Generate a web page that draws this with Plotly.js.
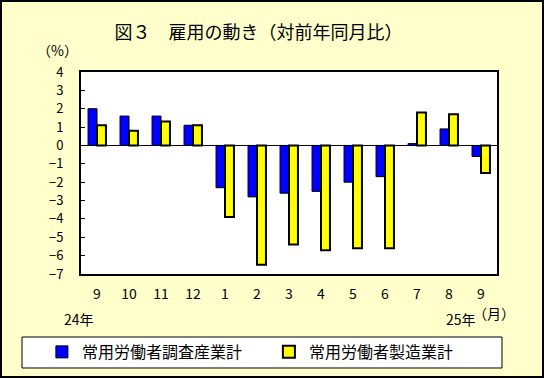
<!DOCTYPE html>
<html>
<head>
<meta charset="utf-8">
<script src="https://cdn.plot.ly/plotly-3.0.1.min.js"></script>
<style>
html,body{margin:0;padding:0;background:#FFFFCC;}
#wrap{position:relative;width:544px;height:378px;}
#chart{position:absolute;left:0;top:0;width:544px;height:378px;}
#frame{position:absolute;left:0;top:0;width:544px;height:378px;box-sizing:border-box;border:2px solid #000;pointer-events:none;}
</style>
</head>
<body>
<div id="wrap"><div id="chart"></div><div id="frame"></div></div>
<script>
const categories = ["2012-09","2012-10","2012-11","2012-12","2013-01","2013-02","2013-03","2013-04","2013-05","2013-06","2013-07","2013-08","2013-09"];
const monthLabels = ["9","10","11","12","1","2","3","4","5","6","7","8","9"];
const allIndustries = [2.0, 1.6, 1.6, 1.1, -2.3, -2.8, -2.6, -2.5, -2.0, -1.7, 0.1, 0.9, -0.6];
const manufacturing = [1.1, 0.8, 1.3, 1.1, -3.9, -6.5, -5.4, -5.7, -5.6, -5.6, 1.8, 1.7, -1.5];
const seriesNames = ["常用労働者調査産業計", "常用労働者製造業計"];

const FONT = '"Noto Sans CJK JP", "Noto Sans", sans-serif';

const traces = [
  {type:'bar', x:categories, y:allIndustries, name:seriesNames[0],
   marker:{color:'#0000FF', line:{color:'#000', width:1}}},
  {type:'bar', x:categories, y:manufacturing, name:seriesNames[1],
   marker:{color:'#FFFF00', line:{color:'#000', width:2}}}
];

const layout = {
  width:544, height:378,
  margin:{l:81, r:47, t:72, b:104, autoexpand:false},
  paper_bgcolor:'#FFFFCC', plot_bgcolor:'#FFFFFF',
  font:{family:FONT, size:14, color:'#000'},
  title:{text:'図３　雇用の動き（対前年同月比）', font:{family:FONT, size:18, color:'#000'},
         x:0.475, xanchor:'center', y:0.913, yanchor:'middle'},
  barmode:'group', bargap:0.44, bargroupgap:0,
  xaxis:{type:'category', tickvals:categories, ticktext:monthLabels,
         showline:true, mirror:true, linecolor:'#000', linewidth:2,
         ticks:'', showgrid:false, ticklabelstandoff:6, tickfont:{size:14}},
  yaxis:{range:[-7,4], dtick:1, tick0:0, ticks:'inside', ticklen:4, tickcolor:'#000', tickwidth:1,
         showline:true, mirror:true, linecolor:'#000', linewidth:2, showgrid:false,
         zeroline:true, zerolinecolor:'#000', zerolinewidth:1,
         ticklabelstandoff:13, tickfont:{size:13}},
  showlegend:true,
  legend:{orientation:'h', x:-0.094, xanchor:'left', y:-0.386, yanchor:'middle',
          bgcolor:'rgba(0,0,0,0)', font:{family:FONT, size:16},
          entrywidth:182, entrywidthmode:'pixels', traceorder:'normal'},
  shapes:[{type:'rect', xref:'paper', yref:'paper', x0:-0.1418, x1:1.012, y0:-0.3119, y1:-0.4653,
           line:{color:'#000', width:1}, fillcolor:'#FFFFFF', layer:'below'}],
  annotations:[
    {text:'（%）', xref:'paper', yref:'paper', x:(57-81)/416, y:(274-50)/202, showarrow:false, xanchor:'center', yanchor:'middle', font:{size:14}},
    {text:'24年', xref:'paper', yref:'paper', x:(79-81)/416, y:(274-319)/202, showarrow:false, xanchor:'center', yanchor:'middle', font:{size:14}},
    {text:'25年', xref:'paper', yref:'paper', x:(461-81)/416, y:(274-319)/202, showarrow:false, xanchor:'center', yanchor:'middle', font:{size:14}},
    {text:'（月）', xref:'paper', yref:'paper', x:(494-81)/416, y:(274-313)/202, showarrow:false, xanchor:'center', yanchor:'middle', font:{size:14}}
  ]
};

Plotly.newPlot('chart', traces, layout, {displayModeBar:false, staticPlot:true});
</script>
</body>
</html>
